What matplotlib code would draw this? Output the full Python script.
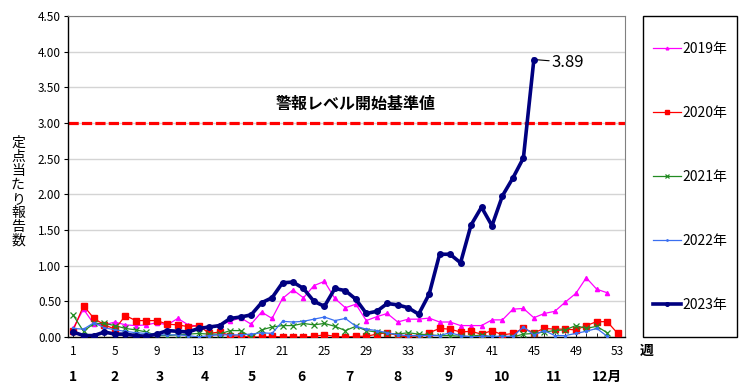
import matplotlib
matplotlib.use("Agg")
import matplotlib.pyplot as plt
from matplotlib.patches import Rectangle
import numpy as np

plt.rcParams['font.family'] = ['Noto Sans CJK JP', 'DejaVu Sans']

y2019 = [0.12, 0.39, 0.18, 0.17, 0.21, 0.17, 0.16, 0.17, 0.20, 0.17, 0.26, 0.17, 0.15, 0.14, 0.17, 0.22,
         0.27, 0.18, 0.35, 0.26, 0.54, 0.66, 0.55, 0.72, 0.78, 0.54, 0.41, 0.46, 0.23, 0.285, 0.33, 0.21,
         0.25, 0.25, 0.265, 0.21, 0.21, 0.16, 0.16, 0.16, 0.24, 0.24, 0.39, 0.40, 0.27, 0.33, 0.36, 0.49,
         0.61, 0.83, 0.67, 0.62]
y2020 = [0.09, 0.44, 0.26, 0.17, 0.11, 0.30, 0.23, 0.23, 0.23, 0.18, 0.17, 0.145, 0.16, 0.05, 0.07, 0.02,
         0.01, 0.00, 0.00, 0.01, 0.00, 0.00, 0.00, 0.01, 0.03, 0.01, 0.00, 0.01, 0.01, 0.04, 0.06, 0.02,
         0.00, 0.00, 0.06, 0.12, 0.11, 0.07, 0.08, 0.04, 0.09, 0.03, 0.05, 0.12, 0.06, 0.12, 0.11, 0.11,
         0.10, 0.16, 0.215, 0.215, 0.05]
y2021 = [0.31, 0.08, 0.19, 0.19, 0.16, 0.12, 0.10, 0.07, 0.02, 0.02, 0.03, 0.04, 0.05, 0.04, 0.04, 0.09,
         0.09, 0.00, 0.10, 0.14, 0.16, 0.16, 0.19, 0.17, 0.19, 0.15, 0.09, 0.15, 0.09, 0.07, 0.05, 0.04,
         0.06, 0.04, 0.03, 0.02, 0.02, 0.01, 0.01, 0.03, 0.00, 0.00, 0.00, 0.04, 0.05, 0.07, 0.09, 0.10,
         0.16, 0.12, 0.15, 0.06]
y2022 = [0.12, 0.11, 0.20, 0.13, 0.10, 0.08, 0.06, 0.05, 0.03, 0.03, 0.03, 0.02, 0.00, 0.02, 0.03, 0.03,
         0.03, 0.04, 0.06, 0.05, 0.22, 0.21, 0.22, 0.25, 0.28, 0.23, 0.26, 0.15, 0.11, 0.09, 0.06, 0.03,
         0.02, 0.02, 0.02, 0.02, 0.06, 0.02, 0.00, 0.01, 0.01, 0.01, 0.01, 0.14, 0.03, 0.09, 0.02, 0.02,
         0.05, 0.08, 0.12, 0.01]
y2023 = [0.07, 0.02, 0.02, 0.07, 0.04, 0.04, 0.02, 0.01, 0.04, 0.09, 0.08, 0.07, 0.12, 0.14, 0.16, 0.26,
         0.28, 0.31, 0.48, 0.55, 0.76, 0.77, 0.68, 0.50, 0.43, 0.68, 0.65, 0.53, 0.33, 0.36, 0.47, 0.45,
         0.41, 0.32, 0.60, 1.16, 1.16, 1.04, 1.57, 1.82, 1.56, 1.98, 2.23, 2.51, 3.89]

alert_level = 3.0
alert_label = "警報レベル開始基準値"
xtick_labels = [str(w) for w in range(1, 54, 4)]
month_labels = ["1", "2", "3", "4", "5", "6", "7", "8", "9", "10", "11", "12月"]
month_pos = [1.0, 5.0, 9.3, 13.6, 18.1, 22.8, 27.4, 32.0, 36.9, 42.0, 46.9, 52.0]
ylabel_chars = "定点当たり報告数"

fig = plt.figure(figsize=(7.46, 3.89), dpi=100)
W, H = 746, 389
ax = fig.add_axes([68 / W, (H - 337) / H, (625 - 68) / W, (337 - 16) / H])

def weeks(v):
    return np.arange(1, len(v) + 1)

l19, = ax.plot(weeks(y2019), y2019, color='#ff00ff', lw=0.9, marker='^', ms=3, label='2019年', zorder=3)
l20, = ax.plot(weeks(y2020), y2020, color='#ff0000', lw=0.9, marker='s', ms=4, label='2020年', zorder=3)
l21, = ax.plot(weeks(y2021), y2021, color='#228b22', lw=0.9, marker='x', ms=4, mew=0.9, label='2021年', zorder=3)
l22, = ax.plot(weeks(y2022), y2022, color='#3a6ff0', lw=0.9, marker='o', ms=1.5, label='2022年', zorder=3)
l23, = ax.plot(weeks(y2023), y2023, color='#000080', lw=2.6, marker='o', ms=4, label='2023年', zorder=4)

ax.axhline(alert_level, color='#ff0000', lw=2.3, dashes=(3.2, 1.0), zorder=2)
ax.text(28.0, alert_level + 0.27, alert_label, ha='center', va='center', fontsize=11.5, fontweight='bold')

last_w = len(y2023)
ax.annotate(f"{y2023[-1]:.2f}", xy=(last_w, y2023[-1]), xytext=(13, -2), textcoords='offset points',
            ha='left', va='center', fontsize=12,
            arrowprops=dict(arrowstyle='-', color='black', lw=0.8, shrinkA=0, shrinkB=2))

ax.set_xlim(0.52, 53.7)
ax.set_ylim(0, 4.5)
ax.set_yticks(np.arange(0, 4.51, 0.5))
ax.set_yticklabels([f"{v:.2f}" for v in np.arange(0, 4.51, 0.5)], fontsize=8.5)
ax.set_xticks(range(1, 54, 4))
ax.set_xticklabels(xtick_labels, fontsize=8.5)
ax.set_xticks(range(1, 54), minor=True)
ax.tick_params(axis='x', which='both', direction='in', length=3, pad=6)
ax.tick_params(axis='y', direction='out', length=3, pad=2)
ax.grid(axis='y', color='#d4d4d4', lw=1.0, zorder=0)
ax.set_axisbelow(True)
for s in ['top', 'right']:
    ax.spines[s].set_color('#808080')
for s in ['left', 'bottom']:
    ax.spines[s].set_color('black')
    ax.spines[s].set_linewidth(1.0)

for lab, p in zip(month_labels, month_pos):
    ax.text(p, -0.56, lab, ha='center', va='center', fontsize=10, fontweight='bold')
ax.text(55.8, -0.2, "週", ha='center', va='center', fontsize=10, fontweight='bold')

fig.text(18 / W, 1 - 192 / H, "\n".join(ylabel_chars), ha='center', va='center', fontsize=10, linespacing=1.0)

# legend frame
fig.patches.append(Rectangle((643 / W, 1 - 337 / H), (737 - 643) / W, (337 - 16) / H,
                             transform=fig.transFigure, facecolor='white', edgecolor='black', lw=1.0, zorder=1))
leg = fig.legend(handles=[l19, l20, l21, l22, l23], loc='center',
                 bbox_to_anchor=(690 / W, 1 - 176.5 / H),
                 fontsize=10, labelspacing=3.6, handlelength=2.0, handletextpad=0.1,
                 markerscale=0.65, borderpad=0, borderaxespad=0, frameon=False)
leg.set_zorder(2)

fig.savefig("out.png", dpi=100)
